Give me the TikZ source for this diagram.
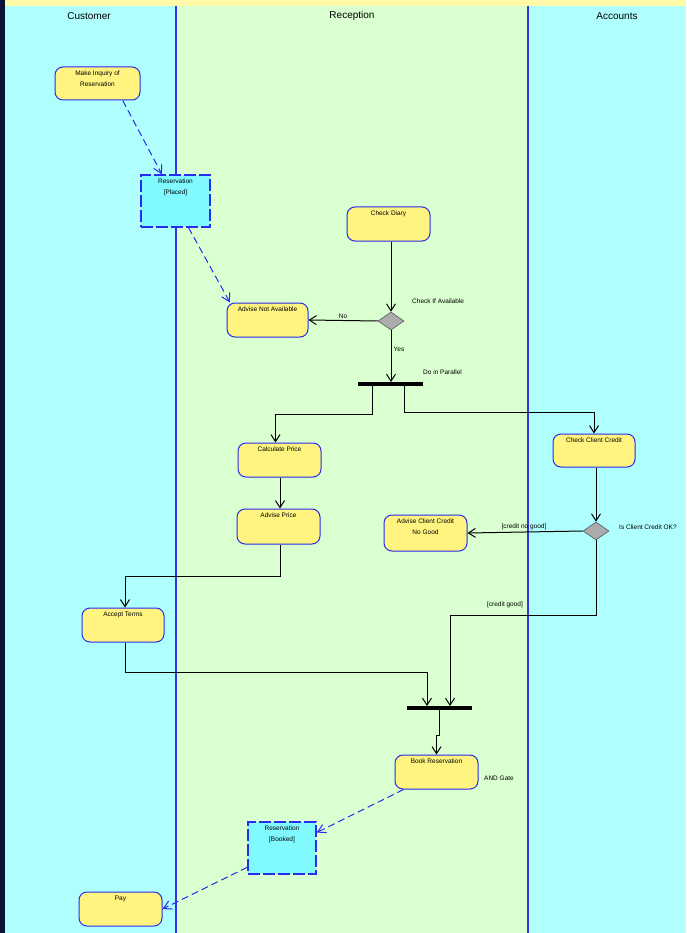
\documentclass[tikz,border=0pt]{standalone}
\usepackage{fontspec}
\setmainfont{Liberation Sans}
\usetikzlibrary{shapes.geometric,arrows.meta,calc}
\definecolor{laneC}{HTML}{B0FFFF}
\definecolor{laneR}{HTML}{DAFFD0}
\definecolor{topY}{HTML}{FFF9A8}
\definecolor{edgeN}{HTML}{0A1535}
\definecolor{actY}{HTML}{FFF47F}
\definecolor{actB}{HTML}{2A2AF0}
\definecolor{objC}{HTML}{80FAFF}
\definecolor{divB}{HTML}{3535E0}
\newcommand\smtxt{\fontsize{6.5}{11}\selectfont}
\begin{document}
\begin{tikzpicture}[x=1pt,y=-1pt,
  action/.style={draw=actB, line width=1pt, fill=actY, rounded corners=8pt,
    minimum width=83pt, minimum height=34pt, inner sep=0pt},
  atext/.style={label={[anchor=north, inner sep=0pt, yshift=-4pt, font=\smtxt, align=center]north:#1}},
  objbox/.style={draw=actB, line width=1.3pt, fill=objC, dash pattern=on 12pt off 3pt,
    minimum width=69pt, minimum height=52pt, inner sep=0pt},
  decis/.style={diamond, draw=gray!70!black, fill=gray!65, line width=0.6pt,
    minimum width=26pt, minimum height=18pt, inner sep=0pt},
  syncbar/.style={fill=black, minimum width=65pt, minimum height=3.5pt, inner sep=0pt},
  conn/.style={draw=black, line width=1pt, -{Straight Barb[length=7pt,width=9pt]}},
  dconn/.style={draw=actB, line width=1pt, dash pattern=on 7pt off 4pt,
    -{Straight Barb[length=8pt,width=9pt]}},
  free/.style={font=\smtxt, inner sep=0pt},
  lanetitle/.style={font=\fontsize{10}{12}\selectfont, text=black, inner sep=0pt}
]
\useasboundingbox (0,0) rectangle (686,933);
% backgrounds
\fill[laneC] (0,0) rectangle (176,933);
\fill[laneR] (176,0) rectangle (528,933);
\fill[laneC] (528,0) rectangle (686,933);
\fill[topY] (0,0) rectangle (686,6);
\fill[edgeN] (0,0) rectangle (5,933);
\draw[divB, line width=1.5pt] (176,6) -- (176,933);
\draw[divB, line width=1.5pt] (528,6) -- (528,933);
\node[lanetitle] (tC) at (89,16) {Customer};
\node[lanetitle] (tR) at (352,16) {Reception};
\node[lanetitle] (tA) at (617,16) {Accounts};
% nodes
\node[action, minimum width=85pt, minimum height=33pt, atext={Make Inquiry of\\Reservation}] (mi) at (97.5,83.5) {};
\node[objbox, atext={Reservation\\{[}Placed{]}}] (rp) at (175.5,201) {};
\node[action, atext={Check Diary}] (cd) at (388.5,224) {};
\node[action, minimum width=81pt, atext={Advise Not Available}] (ana) at (267.5,320) {};
\node[decis] (d1) at (391,321) {};
\node[syncbar] (fork) at (390.5,384) {};
\node[action, atext={Calculate Price}] (cp) at (279.5,460) {};
\node[action, minimum width=82pt, minimum height=33pt, atext={Check Client Credit}] (ccc) at (594,450.5) {};
\node[action, minimum height=35pt, atext={Advise Price}] (ap) at (278.5,526.5) {};
\node[action, minimum height=36pt, atext={Advise Client Credit\\No Good}] (acng) at (425.5,533) {};
\node[decis] (d2) at (596,531) {};
\node[action, minimum width=82pt, atext={Accept Terms}] (at) at (123,625) {};
\node[syncbar] (join) at (439.5,708) {};
\node[action, atext={Book Reservation}] (br) at (436.5,772) {};
\node[objbox, minimum width=68pt, atext={Reservation\\{[}Booked{]}}] (rb) at (282,848) {};
\node[action, atext={Pay}] (pay) at (120.5,909) {};
% free labels
\node[free, anchor=west] (lca) at (412,301) {Check If Available};
\node[free, anchor=west] (ldp) at (423,372) {Do in Parallel};
\node[free, anchor=west] (lcok) at (619,527) {Is Client Credit OK?};
\node[free, anchor=west] (lag) at (484,778) {AND Gate};
\node[free] (lno) at (343,316) {No};
\node[free] (lyes) at (399,349) {Yes};
\node[free] (lcng) at (524,527) {[credit no good]};
\node[free] (lcg) at (505,605) {[credit good]};
% connectors
\draw[dconn] (mi.-34) -- (rp.117);
\draw[dconn] (rp.-64) -- (ana.155);
\draw[conn] (d1.north |- cd.south) -- (d1.north);
\draw[conn] (d1.west) -- (ana.east);
\draw[conn] (d1.south) -- (d1.south |- fork.north);
\draw[conn] ($(fork.south west)+(15,0)$) -- ++(0,29) -| ($(cp.north)+(-4,0)$);
\draw[conn] ($(fork.south east)+(-19,0)$) -- ++(0,27) -| (ccc.north);
\draw[conn] ($(cp.south)+(0.5,0)$) -- ($(ap.north)+(1.5,0)$);
\draw[conn] ($(ap.south)+(1.5,0)$) -- ++(0,32) -| ($(at.north)+(2,0)$);
\draw[conn] (d2.north |- ccc.south) -- (d2.north);
\draw[conn] (d2.west) -- (acng.east);
\draw[conn] (d2.south) -- ++(0,75) -| ($(join.north)+(10.5,0)$);
\draw[conn] ($(at.south)+(2,0)$) -- ++(0,30) -| ($(join.north)+(-12.5,0)$);
\draw[conn] (join.south) -- ++(0,26) -| (br.north);
\draw[dconn] (br.-152) -- (rb.24);
\draw[dconn] (rb.-151) -- (pay.east);
\end{tikzpicture}
\end{document}
